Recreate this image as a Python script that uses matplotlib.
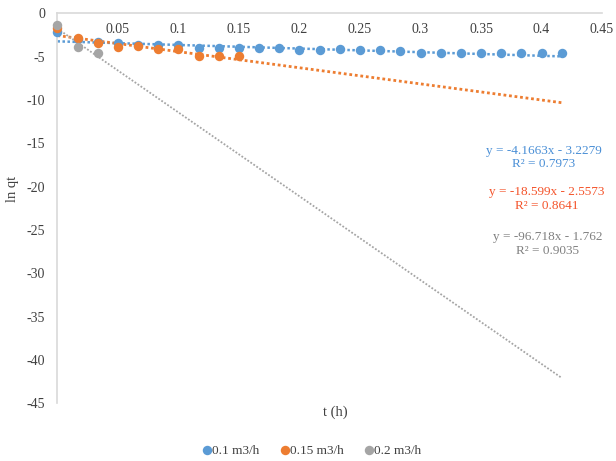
import matplotlib
matplotlib.use("Agg")
import numpy as np
import matplotlib.pyplot as plt

plt.rcParams['font.family'] = ['Liberation Serif', 'DejaVu Serif']
plt.rcParams['axes.unicode_minus'] = False

# time (h)
t_blue = [0, 0.0167, 0.0333, 0.05, 0.0667, 0.0833, 0.1, 0.1167, 0.1333, 0.15,
          0.1667, 0.1833, 0.2, 0.2167, 0.2333, 0.25, 0.2667, 0.2833, 0.3,
          0.3167, 0.3333, 0.35, 0.3667, 0.3833, 0.4, 0.4167]
lnq_blue = [-2.1, -2.9, -3.3, -3.45, -3.7, -3.6, -3.6, -3.95, -3.95, -3.95,
            -3.95, -3.95, -4.2, -4.2, -4.1, -4.2, -4.2, -4.3, -4.55,
            -4.55, -4.55, -4.55, -4.55, -4.55, -4.6, -4.6]
t_orange = [0, 0.0167, 0.0333, 0.05, 0.0667, 0.0833, 0.1, 0.1167, 0.1333, 0.15]
lnq_orange = [-1.7, -2.8, -3.4, -3.85, -3.8, -4.15, -4.15, -4.9, -4.9, -4.9]
t_gray = [0, 0.0167, 0.0333]
lnq_gray = [-1.35, -3.85, -4.55]

labels = ["0.1 m3/h", "0.15 m3/h", "0.2 m3/h"]
colors = ["#5B9BD5", "#ED7D31", "#A5A5A5"]
text_colors = ["#4A8FD6", "#F4532A", "#808080"]

# trendline coefficients (slope, intercept) and R2 as shown
slopes = [-4.1663, -18.599, -96.718]
intercepts = [-3.2279, -2.5573, -1.762]
r2 = [0.7973, 0.8641, 0.9035]
trend_end = 0.4167

fig = plt.figure(figsize=(6.16, 4.61), dpi=100)
ax = fig.add_axes([0.0933, 0.125, 0.884, 0.846])

series = [(t_blue, lnq_blue), (t_orange, lnq_orange), (t_gray, lnq_gray)]
lws = [1.8, 2.0, 1.3]
for i, (tx, ty) in enumerate(series):
    xs = np.array([0, trend_end])
    ax.plot(xs, slopes[i] * xs + intercepts[i], color=colors[i], lw=lws[i],
            linestyle=(0, (1, 1)), zorder=2)
for i, (tx, ty) in enumerate(series):
    ax.plot(tx, ty, 'o', color=colors[i], markersize=6.8, label=labels[i],
            zorder=3, markeredgewidth=0, clip_on=False)

ax.set_xlim(0, 0.45)
ax.set_ylim(-45, 0)
ax.set_xticks(np.arange(0, 0.46, 0.05))
ax.set_xticklabels(["0", "0.05", "0.1", "0.15", "0.2", "0.25", "0.3", "0.35", "0.4", "0.45"])
ax.set_yticks(np.arange(-45, 1, 5))
ax.spines['bottom'].set_position(('data', 0))
ax.spines['top'].set_visible(False)
ax.spines['right'].set_visible(False)
for s in ['bottom', 'left']:
    ax.spines[s].set_color('#D9D9D9')
    ax.spines[s].set_linewidth(1.2)
ax.tick_params(length=0, labelsize=10, colors='#404040', pad=9)
ax.tick_params(axis='x', pad=7)

ax.set_xlabel("t (h)", fontsize=10.5, color='#404040')
ax.xaxis.set_label_coords(0.51, -0.005)
ax.set_ylabel("ln qt", fontsize=10.5, color='#404040')
ax.yaxis.set_label_coords(-0.071, 0.55)

eq_pos = [(0.402, -15.9, -17.4), (0.404, -20.6, -22.2), (0.405, -25.8, -27.4)]
for i in range(3):
    x, y1, y2 = eq_pos[i]
    ax.text(x, y1, "y = %sx - %s" % (slopes[i], abs(intercepts[i])), ha='center',
            va='center', fontsize=9.5, color=text_colors[i])
    ax.text(x, y2, "R² = %s" % r2[i], ha='center', va='center', fontsize=9.5,
            color=text_colors[i])

fig.legend(loc='center', bbox_to_anchor=(312 / 616, 1 - 451 / 461), ncol=3,
           frameon=False, fontsize=9.5, handlelength=0.6, handletextpad=0.1,
           columnspacing=1.6, labelcolor='#404040', markerscale=1.0)

fig.savefig("out.png", dpi=100)
